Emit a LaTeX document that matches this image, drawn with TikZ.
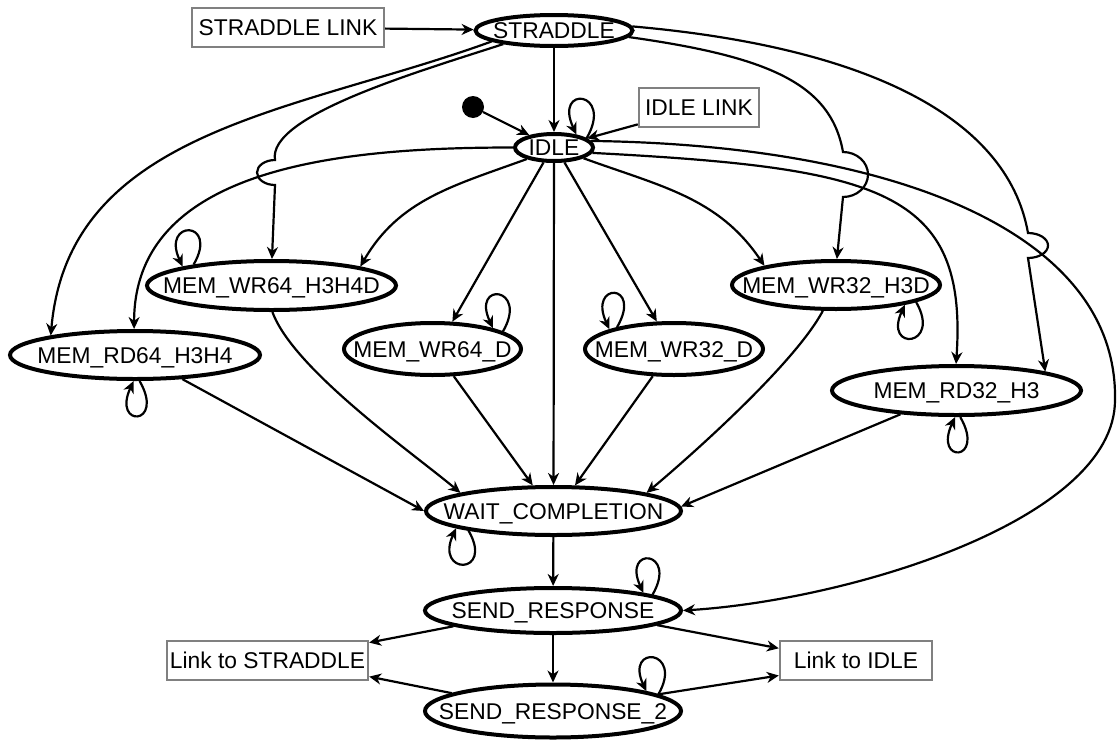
\documentclass[tikz,border=0pt]{standalone}
\usepackage{fontspec}
\setmainfont{Liberation Sans}
\usetikzlibrary{shapes.geometric,arrows.meta}
\begin{document}
\begin{tikzpicture}[x=1pt,y=1pt,
  lbl/.style={font=\fontsize{22.8}{27}\selectfont, text height=16pt, text depth=0pt},
  state/.style={lbl, ellipse, draw=black, line width=4pt, inner sep=0pt},
  linkbox/.style={lbl, rectangle, draw=black!50, line width=2.4pt, inner sep=0pt, minimum height=39pt},
  conn/.style={line width=2.2pt, -{Stealth[length=12pt,width=11pt,inset=3.8pt]}},
]
\useasboundingbox (0,0) rectangle (1117,-742);

% states
\node[state, minimum width=157pt, minimum height=31pt] (straddle) at (554,-30.5) {\makebox[0pt]{STRADDLE}};
\node[state, minimum width=78pt, minimum height=27pt] (idle) at (554,-147.5) {\makebox[0pt]{IDLE}};
\node[state, minimum width=249pt, minimum height=49pt] (wr64h) at (271.5,-285.5) {\makebox[0pt]{MEM\_WR64\_H3H4D}};
\node[state, minimum width=250pt, minimum height=48pt] (rd64) at (135,-355) {\makebox[0pt]{MEM\_RD64\_H3H4}};
\node[state, minimum width=177pt, minimum height=52pt] (wr64d) at (432.5,-349) {\makebox[0pt]{MEM\_WR64\_D}};
\node[state, minimum width=178pt, minimum height=52pt] (wr32d) at (674,-349) {\makebox[0pt]{MEM\_WR32\_D}};
\node[state, minimum width=208pt, minimum height=48pt] (wr32h) at (836,-285) {\makebox[0pt]{MEM\_WR32\_H3D}};
\node[state, minimum width=249pt, minimum height=49pt] (rd32) at (956.5,-390.5) {\makebox[0pt]{MEM\_RD32\_H3}};
\node[state, minimum width=255pt, minimum height=48pt] (wait) at (553.5,-511) {\makebox[0pt]{WAIT\_COMPLETION}};
\node[state, minimum width=256pt, minimum height=45pt] (send) at (553,-610.5) {\makebox[0pt]{SEND\_RESPONSE}};
\node[state, minimum width=256pt, minimum height=53pt] (send2) at (553,-711) {\makebox[0pt]{SEND\_RESPONSE\_2}};

% link boxes and the initial dot
\node[linkbox, minimum width=192pt] (strlink) at (288,-27.5) {STRADDLE LINK};
\node[linkbox, minimum width=120pt] (idlelink) at (699,-107.5) {IDLE LINK};
\node[linkbox, minimum width=201pt] (linkstr) at (267.5,-660.5) {Link to STRADDLE};
\node[linkbox, minimum width=152pt] (linkidle) at (856,-660.5) {Link to IDLE};
\node[circle, fill=black, inner sep=0pt, minimum size=22pt] (start) at (473,-107) {};

% jump points and the far right bend
\coordinate (hopL) at (275,-160);
\coordinate (hopM) at (843,-152);
\coordinate (hopR) at (1028,-233);
\coordinate (farR) at (1115,-400);

% entries
\draw[conn] (strlink) -- (straddle);
\draw[conn] (straddle) -- (idle);
\draw[conn] (start) -- (idle);
\draw[conn] (idlelink) -- (idle);

% from STRADDLE
\draw[conn] (straddle.190) to[out=200,in=85] (rd64.167);
\draw[conn] (straddle.195) .. controls +(198:90) and +(100:45) .. (hopL)
  arc[start angle=90,end angle=270,x radius=18pt,y radius=12.5pt] -- (wr64h.89);
\draw[conn] (straddle.-5) .. controls +(-8:140) and +(100:70) .. (hopM)
  arc[start angle=90,end angle=-90,x radius=25pt,y radius=22.5pt] -- (wr32h.88);
\draw[conn] (straddle.3) .. controls +(-5:230) and +(100:120) .. (hopR)
  arc[start angle=90,end angle=-90,x radius=20pt,y radius=12.5pt] -- (rd32.12);

% from IDLE
\draw[conn] (idle.west) to[out=180,in=90] (rd64.92);
\draw[conn] (idle.203) to[out=200,in=60] (wr64h.12);
\draw[conn] (idle.235) -- (wr64d.54);
\draw[conn] (idle) -- (wait);
\draw[conn] (idle.305) -- (wr32d.122);
\draw[conn] (idle.-20) to[out=-20,in=124] (wr32h.165);
\draw[conn] (idle.-8) .. controls (880,-168) and (968,-190) .. (rd32.91);
\draw[conn] (idle.10) .. controls (900,-145) and (1118,-235) .. (farR)
  .. controls (1115,-520) and (850,-600) .. (send.east);

% into WAIT_COMPLETION
\draw[conn] (rd64.-27) -- (wait.west);
\draw[conn] (wr64h.-88) to[out=-70,in=140,looseness=0.6] (wait.169);
\draw[conn] (wr64d.-52) -- (wait.129);
\draw[conn] (wr32d.232) -- (wait.50);
\draw[conn] (wr32h.243) to[out=-118,in=40,looseness=0.6] (wait.11);
\draw[conn] (rd32.203) -- (wait.2);

% responses
\draw[conn] (wait) -- (send);
\draw[conn] (send) -- (send2);
\draw[conn] (send.189) -- (linkstr.10);
\draw[conn] (send2.170) -- (linkstr.-9);
\draw[conn] (send.-8) -- (linkidle.171);
\draw[conn] (send2.9) -- (linkidle.191);

% self loops
\draw[conn] (idle.16) to[out=60,in=115,distance=55pt] (idle.30);
\draw[conn] (wr64h.165) to[out=60,in=115,distance=52pt] (wr64h.168);
\draw[conn] (rd64.-80) to[out=-60,in=-115,distance=52pt] (rd64.-93);
\draw[conn] (wr64d.14) to[out=60,in=115,distance=52pt] (wr64d.19);
\draw[conn] (wr32d.159) to[out=60,in=115,distance=52pt] (wr32d.163);
\draw[conn] (wr32h.-12) to[out=-60,in=-115,distance=52pt] (wr32h.-16);
\draw[conn] (rd32.-82) to[out=-60,in=-115,distance=52pt] (rd32.-93);
\draw[conn] (wait.193) to[out=-60,in=-115,distance=52pt] (wait.190);
\draw[conn] (send.9) to[out=60,in=115,distance=52pt] (send.11);
\draw[conn] (send2.9) to[out=60,in=115,distance=52pt] (send2.12);
\end{tikzpicture}
\end{document}
